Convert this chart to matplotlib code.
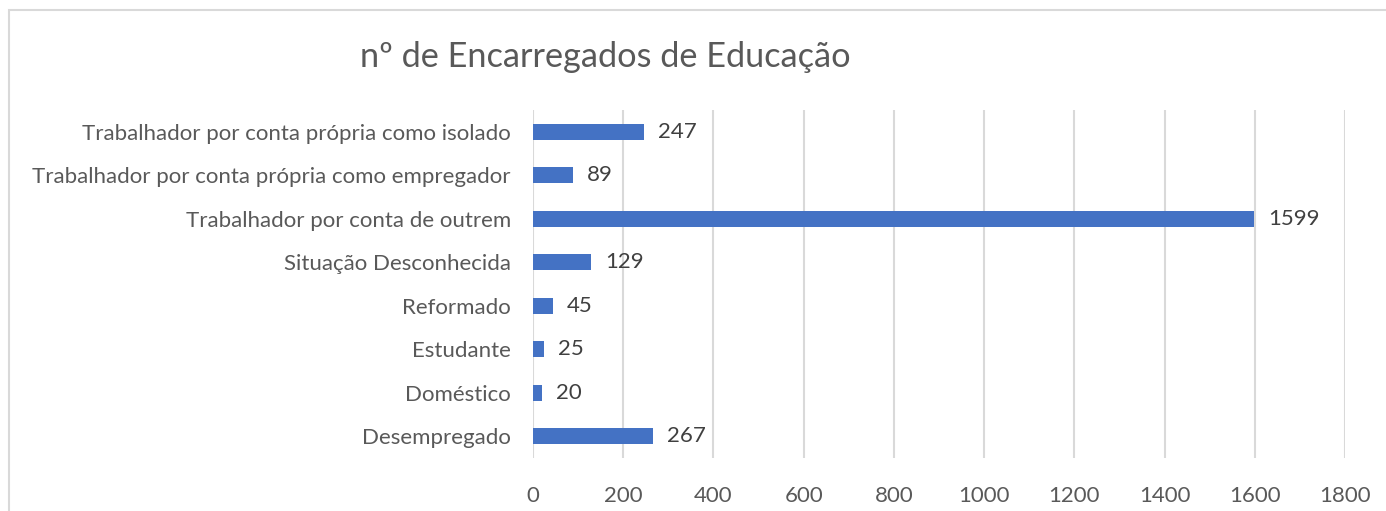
import matplotlib
matplotlib.use("Agg")
import matplotlib.pyplot as plt
from matplotlib.patches import Rectangle

# dados do gráfico (de baixo para cima, como no Excel)
categorias = [
    "Desempregado",
    "Doméstico",
    "Estudante",
    "Reformado",
    "Situação Desconhecida",
    "Trabalhador por conta de outrem",
    "Trabalhador por conta própria como empregador",
    "Trabalhador por conta própria como isolado",
]
valores = [267, 20, 25, 45, 129, 1599, 89, 247]
ticks_x = [0, 200, 400, 600, 800, 1000, 1200, 1400, 1600, 1800]
titulo = "nº de Encarregados de Educação"

plt.rcParams["font.family"] = ["Lato", "DejaVu Sans"]
cor_texto = "#595959"
cor_grelha = "#D9D9D9"

fig = plt.figure(figsize=(13.86, 5.11), dpi=100)
ax = fig.add_axes([533 / 1386, 1 - 458 / 511, (1345 - 533) / 1386, (458 - 110) / 511])

pos = range(len(categorias))
barras = ax.barh(pos, valores, height=0.37, color="#4472C4", zorder=3)

for b, v in zip(barras, valores):
    ax.annotate(str(v), (b.get_width(), b.get_y() + b.get_height() / 2),
                xytext=(10, 0), textcoords="offset points",
                va="center", ha="left", fontsize=16, color="#404040")

ax.set_xlim(0, 1800)
ax.set_ylim(-0.5, len(categorias) - 0.5)
ax.set_xticks(ticks_x)
ax.set_xticklabels([str(t) for t in ticks_x])
ax.set_yticks(list(pos))
ax.set_yticklabels(categorias)
ax.tick_params(axis="both", length=0, labelsize=16, colors=cor_texto)
ax.tick_params(axis="y", pad=16)
ax.tick_params(axis="x", pad=20)
ax.xaxis.grid(True, color=cor_grelha, linewidth=1.5, zorder=0)
for s in ax.spines.values():
    s.set_visible(False)

fig.text(605 / 1386, 1 - 57 / 511, titulo, ha="center", va="center",
         fontsize=24.7, color=cor_texto)

# moldura da área do gráfico
fig.patches.append(Rectangle((9 / 1386, -0.1), 1.1, 1.1 - 10 / 511,
                             transform=fig.transFigure, fill=False,
                             edgecolor=cor_grelha, linewidth=1.5))

fig.savefig("out.png", dpi=100)
